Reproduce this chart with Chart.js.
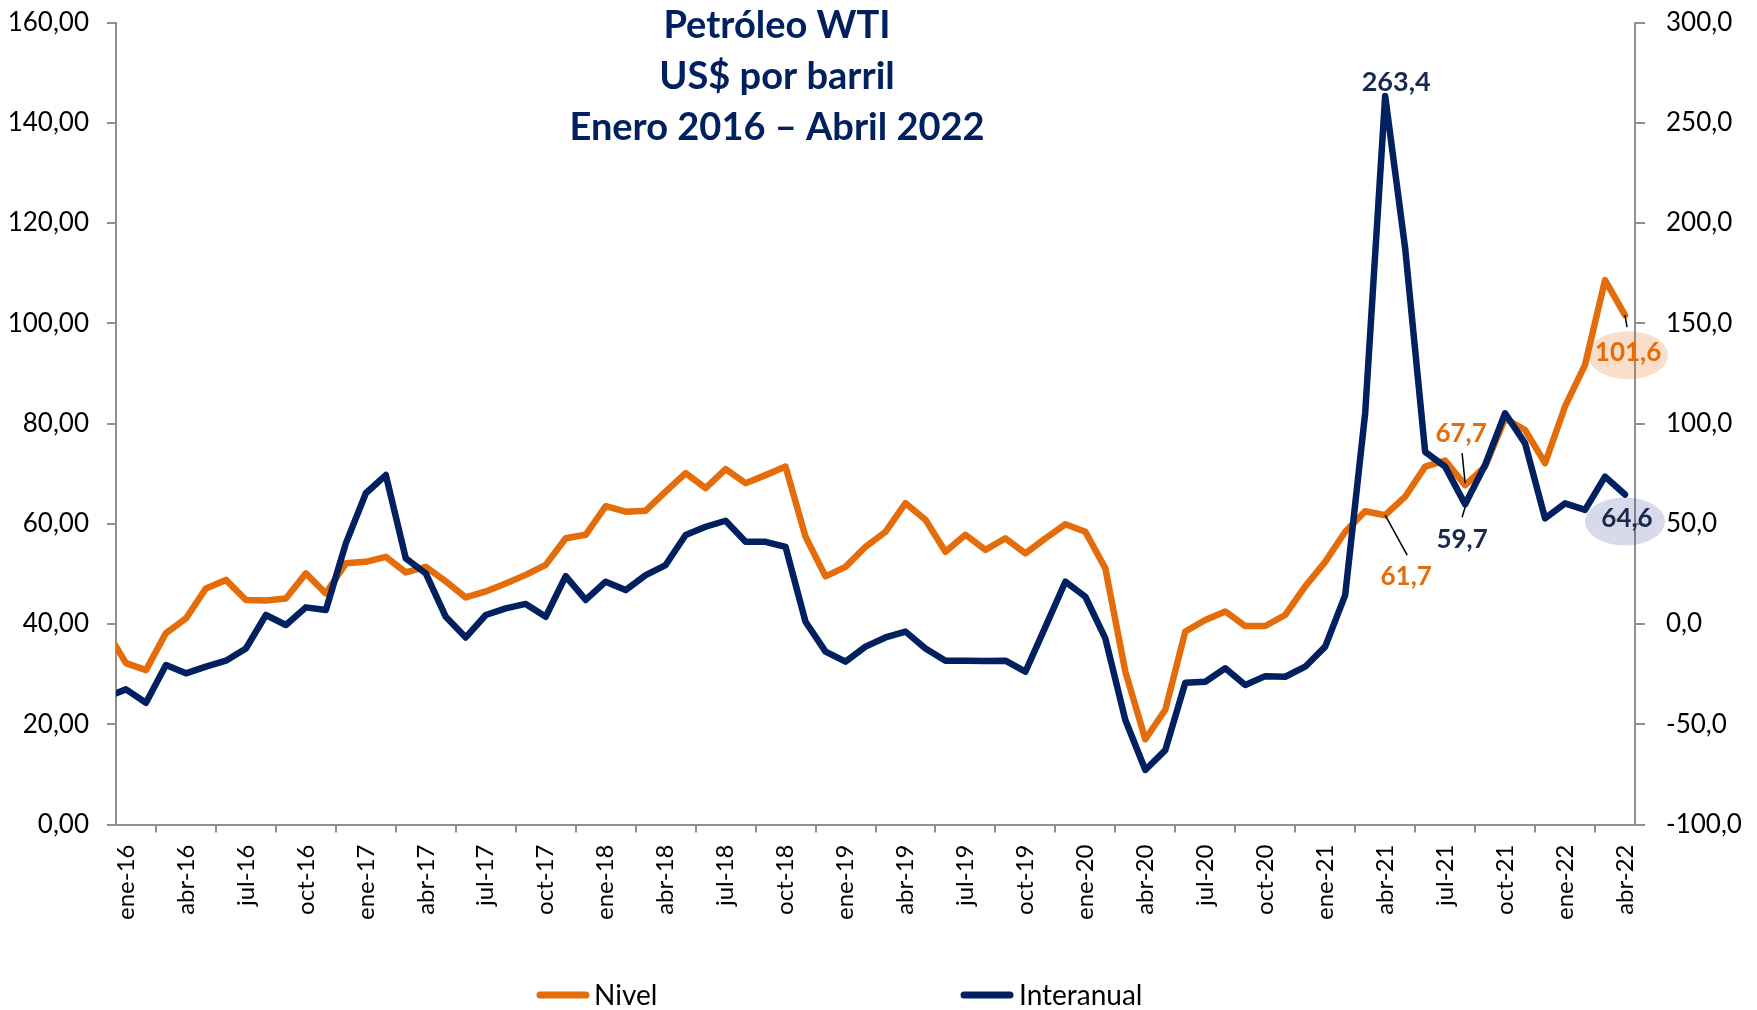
<!DOCTYPE html>
<html>
<head>
<meta charset="utf-8">
<script src="https://cdn.jsdelivr.net/npm/chart.js@4.4.1/dist/chart.umd.min.js"></script>
<style>
html,body{margin:0;padding:0;background:#ffffff;}
canvas{display:block;}
</style>
</head>
<body>
<canvas id="c" width="1757" height="1010"></canvas>
<script>
// ---------- DATA ----------
const months = [
 'dic-15',
 'ene-16','feb-16','mar-16','abr-16','may-16','jun-16','jul-16','ago-16','sep-16','oct-16','nov-16','dic-16',
 'ene-17','feb-17','mar-17','abr-17','may-17','jun-17','jul-17','ago-17','sep-17','oct-17','nov-17','dic-17',
 'ene-18','feb-18','mar-18','abr-18','may-18','jun-18','jul-18','ago-18','sep-18','oct-18','nov-18','dic-18',
 'ene-19','feb-19','mar-19','abr-19','may-19','jun-19','jul-19','ago-19','sep-19','oct-19','nov-19','dic-19',
 'ene-20','feb-20','mar-20','abr-20','may-20','jun-20','jul-20','ago-20','sep-20','oct-20','nov-20','dic-20',
 'ene-21','feb-21','mar-21','abr-21','may-21','jun-21','jul-21','ago-21','sep-21','oct-21','nov-21','dic-21',
 'ene-22','feb-22','mar-22','abr-22'
];
const firstShown = 'ene-16';
const tickLabels = [
 'ene-16','abr-16','jul-16','oct-16','ene-17','abr-17','jul-17','oct-17',
 'ene-18','abr-18','jul-18','oct-18','ene-19','abr-19','jul-19','oct-19',
 'ene-20','abr-20','jul-20','oct-20','ene-21','abr-21','jul-21','oct-21',
 'ene-22','abr-22'
];
// Nivel (US$ por barril) - left axis
const nivel = [
 38.8,
 32.2, 30.8, 38.2, 41.1, 47.1, 48.8, 44.8, 44.7, 45.1, 50.1, 46.1, 52.1,
 52.4, 53.4, 50.3, 51.4, 48.5, 45.3, 46.5, 48.1, 49.8, 51.8, 57.1, 57.8,
 63.5, 62.4, 62.6, 66.4, 70.1, 67.1, 70.9, 68.1, 69.7, 71.4, 57.4, 49.5,
 51.4, 55.4, 58.4, 64.1, 60.8, 54.4, 57.8, 54.8, 57.1, 54.1, 57.1, 59.9,
 58.4, 51.1, 30.5, 17.0, 22.9, 38.5, 40.8, 42.5, 39.6, 39.6, 41.8, 47.5,
 52.4, 58.4, 62.5, 61.7, 65.4, 71.4, 72.6, 67.7, 71.4, 81.0, 78.7, 72.1,
 83.4, 91.7, 108.6, 101.6
];
// Interanual (% variación) - right axis
const interanual = [
 -36.6,
 -32.6, -39.3, -20.5, -24.6, -21.3, -18.3, -12.2, 4.5, -0.5, 8.3, 7.0, 40.2,
 65.2, 74.3, 32.7, 25.2, 3.6, -6.7, 4.5, 7.8, 10.0, 3.6, 23.9, 12.0,
 21.1, 16.9, 24.4, 29.4, 44.4, 48.5, 51.5, 41.0, 41.0, 38.5, 1.1, -13.8,
 -18.8, -11.3, -6.7, -3.8, -12.2, -18.3, -18.3, -18.5, -18.3, -23.8, -1.4, 21.1,
 13.6, -7.2, -47.9, -72.8, -62.9, -29.3, -28.8, -22.1, -30.4, -26.0, -26.3, -21.3,
 -11.3, 14.4, 105.2, 263.4, 187.4, 85.9, 78.5, 59.7, 79.3, 105.1, 90.1, 52.7,
 60.2, 56.9, 73.5, 64.6
];
const seriesNames = ['Nivel', 'Interanual'];
const titleLines = ['Petróleo WTI', 'US$ por barril', 'Enero 2016 – Abril 2022'];
const leftRange = [0, 160, 20];
const rightRange = [-100, 300, 50];

// ---------- STYLE ----------
const ORANGE = '#E46C0A';
const NAVY = '#002060';
const NAVY_TXT = '#172A4E';
const AXIS = '#8f8f8f';
const FONT = 'Lato';
Chart.defaults.font.family = FONT;
Chart.defaults.color = '#000000';

const fmt = (v, d) => v.toFixed(d).replace('.', ',');

// annotations: series index, month label, style/offsets
const annotations = [
 {s:1, m:'abr-21', color:NAVY_TXT, dx:11, dy:-5, size:27},
 {s:0, m:'abr-21', color:ORANGE, dx:21, dy:70, size:26, lead:[[0,0],[22,40]]},
 {s:0, m:'ago-21', color:ORANGE, dx:-4, dy:-43, size:26, lead:[[-3,-32],[0,-2]]},
 {s:1, m:'ago-21', color:NAVY_TXT, dx:-3, dy:44, size:26, lead:[[0,3],[-3,13]]},
 {s:0, m:'abr-22', color:ORANGE, dx:3, dy:46, size:26, lead:[[0,0],[2,12]],
   ell:{dx:3, dy:40, rx:40, ry:24, fill:'rgba(228,108,10,0.22)'}},
 {s:1, m:'abr-22', color:NAVY_TXT, dx:2, dy:33, size:26,
   ell:{dx:0, dy:27, rx:40, ry:24, fill:'rgba(60,70,160,0.2)'}}
];

const decorPlugin = {
  id: 'decor',
  afterDatasetsDraw(chart) {
    const ctx = chart.ctx;
    ctx.save();
    // title
    ctx.fillStyle = NAVY;
    ctx.font = 'bold 38px ' + FONT;
    ctx.textAlign = 'center';
    ctx.textBaseline = 'alphabetic';
    const tb = [38, 89, 140];
    titleLines.forEach((t, i) => ctx.fillText(t, 777, tb[i]));
    // annotations
    annotations.forEach(a => {
      const idx = months.indexOf(a.m);
      const pt = chart.getDatasetMeta(a.s).data[idx];
      const val = chart.data.datasets[a.s].data[idx];
      if (a.ell) {
        ctx.fillStyle = a.ell.fill;
        ctx.beginPath();
        ctx.ellipse(pt.x + a.ell.dx, pt.y + a.ell.dy, a.ell.rx, a.ell.ry, 0, 0, Math.PI * 2);
        ctx.fill();
      }
      if (a.lead) {
        ctx.strokeStyle = '#000000';
        ctx.lineWidth = 1.5;
        ctx.beginPath();
        ctx.moveTo(pt.x + a.lead[0][0], pt.y + a.lead[0][1]);
        ctx.lineTo(pt.x + a.lead[1][0], pt.y + a.lead[1][1]);
        ctx.stroke();
      }
      ctx.fillStyle = a.color;
      ctx.font = 'bold ' + a.size + 'px ' + FONT;
      ctx.textAlign = 'center';
      ctx.textBaseline = 'alphabetic';
      ctx.fillText(fmt(val, 1), pt.x + a.dx, pt.y + a.dy);
    });
    // legend
    const items = [{x:537, tx:594}, {x:961, tx:1019}];
    chart.data.datasets.forEach((ds, i) => {
      const it = items[i];
      ctx.strokeStyle = ds.borderColor;
      ctx.lineWidth = 7;
      ctx.lineCap = 'round';
      ctx.beginPath();
      ctx.moveTo(it.x + 3, 995);
      ctx.lineTo(it.x + 49, 995);
      ctx.stroke();
      ctx.fillStyle = '#000000';
      ctx.font = '28px ' + FONT;
      ctx.textAlign = 'left';
      ctx.textBaseline = 'alphabetic';
      ctx.fillText(ds.label, it.tx, 1005);
    });
    ctx.restore();
  }
};

const noVPad = s => { s.paddingTop = 0; s.paddingBottom = 0; };

new Chart(document.getElementById('c'), {
  type: 'line',
  data: {
    labels: months,
    datasets: [
      {label: seriesNames[0], data: nivel, yAxisID: 'yL', borderColor: ORANGE, backgroundColor: ORANGE,
       borderWidth: 6.5, pointRadius: 0, tension: 0, borderJoinStyle: 'round', borderCapStyle: 'round', clip: 0, order: 2},
      {label: seriesNames[1], data: interanual, yAxisID: 'yR', borderColor: NAVY, backgroundColor: NAVY,
       borderWidth: 6.5, pointRadius: 0, tension: 0, borderJoinStyle: 'round', borderCapStyle: 'round', clip: 0, order: 1}
    ]
  },
  options: {
    responsive: false,
    animation: false,
    events: [],
    layout: {padding: {top: 22.5, left: 0, right: 0, bottom: 0}},
    plugins: {legend: {display: false}, tooltip: {enabled: false}, title: {display: false}},
    scales: {
      x: {
        type: 'category',
        min: firstShown,
        offset: true,
        grid: {display: true, offset: true, drawOnChartArea: false, drawTicks: true, tickLength: 8, color: AXIS, lineWidth: 2},
        border: {display: true, color: AXIS, width: 2},
        ticks: {
          autoSkip: false, minRotation: 90, maxRotation: 90, padding: 12,
          font: {size: 24, family: FONT}, color: '#000000',
          callback: function(value) {
            const lab = this.getLabelForValue(value);
            return tickLabels.includes(lab) ? lab : null;
          }
        },
        afterFit: s => { s.height = 185.5; s.paddingLeft = 0; s.paddingRight = 0; }
      },
      yL: {
        type: 'linear', position: 'left',
        min: leftRange[0], max: leftRange[1],
        grid: {display: true, drawOnChartArea: false, drawTicks: true, tickLength: 9, color: AXIS, lineWidth: 2},
        border: {display: true, color: AXIS, width: 2},
        ticks: {stepSize: leftRange[2], padding: 18, font: {size: 26, family: FONT}, color: '#000000',
                callback: v => fmt(v, 2)},
        afterFit: s => { s.width = 116; noVPad(s); }
      },
      yR: {
        type: 'linear', position: 'right',
        min: rightRange[0], max: rightRange[1],
        grid: {display: true, drawOnChartArea: false, drawTicks: true, tickLength: 10, color: AXIS, lineWidth: 2},
        border: {display: true, color: AXIS, width: 2},
        ticks: {stepSize: rightRange[2], padding: 21, font: {size: 26, family: FONT}, color: '#000000',
                callback: v => fmt(v, 1)},
        afterFit: s => { s.width = 122; noVPad(s); }
      }
    }
  },
  plugins: [decorPlugin]
});
</script>
</body>
</html>
